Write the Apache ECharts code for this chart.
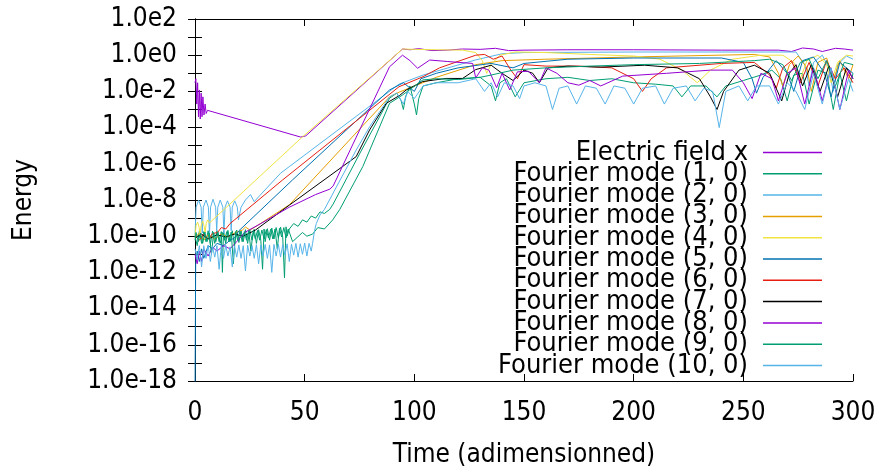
<!DOCTYPE html>
<html>
<head>
<meta charset="utf-8">
<script src="https://cdn.jsdelivr.net/npm/echarts@6/dist/echarts.min.js"></script>
<style>
  html, body { margin: 0; padding: 0; background: #fff; }
  #container { width: 876px; height: 467px; }
</style>
</head>
<body>
<div id="container"></div>
<script type="text/javascript">
// [time, energy]
var efield = [[0,3e-2],[0.4,5e-2],[0.8,2e-3],[1.2,3e-2],[1.6,4e-4],[2.0,1.2e-2],[2.4,3e-4],[2.8,8e-3],[3.2,4e-4],[3.6,5e-3],[4.1,5e-4],[4.6,2e-3],[5.1,6e-4],[5.7,9e-4],
  [48.2,3e-5],[50.5,3.5e-5],[94.6,2.2],[98,2.0],[102,2.3],[108,1.8],[115,1.9],[122,2.2],[130,2.1],[137,2.4],[143,1.8],[150,1.9],[170,2.0],[200,2.0],[240,1.9],
  [266,1.9],[272,1.6],[277,2.5],[282,2.2],[286,1.6],[292,2.4],[296,2.2],[300,1.9]];

var mode1 = [[0,1e-10],[1,3e-11],[2,2e-10],[3,4e-11],[4,1.8e-10],[5,5e-11],[6,2e-10],[7,3.5e-11],[8,1.9e-10],[9,4e-11],[10,2e-10],[11,5e-11],[12,1.8e-10],[12.5,1e-12],
  [13,2e-10],[14,4e-11],[15,2.1e-10],[16,5e-11],[17,2e-10],[18,3e-11],[19,2.2e-10],[20,4.5e-11],[21,2e-10],[22,5e-11],[23,2.3e-10],[24,4e-11],[25,2.2e-10],[26,6e-11],
  [27,2.4e-10],[28,4e-11],[29,2.3e-10],[30,6e-11],[30.8,1.5e-12],[31.5,2.5e-10],[32,5e-11],[33,2.6e-10],[34,6e-11],[35,2.8e-10],[36,7e-11],[37,3e-10],[38,8e-11],
  [39,3.2e-10],[40,9e-11],[40.8,5e-13],[41.5,3.3e-10],[42,1e-10],[43,2.5e-10],[45,5e-10],[47,3.5e-10],[49,8e-10],[51,6e-10],[53,1.3e-9],[55,1e-9],[57,2.2e-9],
  [59,1.8e-9],[61.4,3e-9],[63,6e-9],[75,3.5e-6],[88.7,4.2e-3],[92,8e-3],[94,3e-3],[95,1e-3],[96,5e-3],[98,2e-2],[100,2e-3],[101,5e-4],[102,4e-3],[104,2e-2],
  [110,3e-2],[120,5e-2],[130,6e-2],[135,2e-2],[137,3e-3],[139,3e-2],[142,5e-2],[146,5e-3],[150,3e-2],[160,5e-2],[170,6e-2],[180,4e-2],[190,5e-2],[200,3e-2],
  [210,2.5e-2],[218,2e-2],[222,5e-3],[226,2e-2],[233,2e-2],[238,5e-3],[242,2e-2],[250,4e-2],[258,8e-2],[263,0.15],[267,0.05],[270,0.003],[273,0.08],[277,0.1],
  [280,0.002],[284,0.15],[288,0.1],[291,0.001],[294,0.1],[297,0.003],[300,0.1]];

var mode2 = [[0,1e-10],[0.5,4e-9],[1.65,1e-8],[2.8,4e-9],[3.3,1.5e-10],[3.8,4e-9],[5,1e-8],[6.1,4e-9],[6.6,1.2e-10],[7.1,4e-9],[8.2,1.1e-8],[9.4,4e-9],[9.9,2e-10],
  [10.4,4e-9],[11.5,1e-8],[12.7,4e-9],[13.2,1.5e-10],[13.7,4e-9],[14.8,9e-9],[16,4e-9],[16.5,2e-10],[17,4e-9],[18.1,9e-9],[19.3,4e-9],[19.8,8e-10],[21,4e-9],
  [23,1e-8],[25.3,2e-8],[27,8e-9],[29,1.5e-8],[39,3e-7],[43,7e-7],[93,2.5e-2],[104,8e-2],[128,0.55],[140,1.2],[150,1.4],[200,1.5],[260,1.5],[274,1.5],[278,0.3],
  [280,0.02],[282,0.4],[286,1.0],[289,0.2],[291,0.01],[293,0.3],[297,0.9],[300,0.6]];

var mode3 = [[0,8e-11],[2,1.5e-10],[4,6e-11],[6,1.2e-10],[9,7e-11],[12,1.3e-10],[15,9e-11],[18,1.5e-10],[21.6,2.2e-10],[23,3.2e-10],[25,2.2e-10],[27,3e-10],
  [43,5.4e-9],[88.7,5e-3],[93,9e-3],[110,6e-2],[128,0.3],[140,0.5],[160,0.6],[200,0.8],[255,1.1],[262,0.8],[266,0.1],[268,0.02],[271,0.3],[275,0.9],[279,0.2],
  [281,0.01],[284,0.4],[288,0.7],[291,0.04],[294,0.5],[298,0.05],[300,0.3]];

var mode4 = [[0,1e-10],[0.5,4e-10],[1.2,6e-10],[1.9,3e-10],[2.3,1.2e-10],[2.8,4e-10],[3.5,7e-10],[4.2,3.5e-10],[4.6,1.5e-10],[5.1,5e-10],[5.8,8e-10],[6.6,5.4e-10],
  [48.2,2.5e-5],[94.6,2.2],[100,2.1],[110,2.0],[122,1.9],[128,1.4],[131,0.5],[133,0.1],[135,0.3],[139,1.0],[146,1.5],[160,1.4],[180,1.1],[200,0.9],[212,0.6],
  [222,0.15],[229,0.03],[235,0.15],[245,0.6],[258,1.0],[268,1.0],[273,0.4],[276,0.05],[279,0.5],[284,1.0],[288,0.3],[290,0.03],[293,0.4],[297,1.0],[300,0.9]];

var mode5 = [[0,1e-19],[0.3,3e-12],[1,1.5e-11],[2,4e-12],[3,2e-11],[4,6e-12],[6,3e-11],[8,2e-11],[10,4e-11],[13,3e-11],[16,6e-11],[18,8e-11],[20,2e-10],
  [44.5,1.3e-7],[88.7,1.2e-2],[95,3e-2],[100,1e-2],[103,0.05],[110,0.1],[120,0.2],[135,0.35],[145,0.2],[150,0.35],[170,0.6],[200,0.7],[240,0.7],[250,0.4],
  [254,0.05],[256,0.008],[259,0.06],[265,0.5],[270,0.1],[273,0.01],[277,0.5],[282,0.8],[287,0.1],[290,0.005],[294,0.4],[300,0.1]];

var mode6 = [[0,1e-10],[2,6e-11],[4,1.3e-10],[6,7e-11],[8,1.4e-10],[10.3,1.6e-10],[12,3e-10],[14,2.5e-10],[16,5e-10],[40,1.3e-7],[93,1.8e-2],[104,6.5e-2],
  [111.5,0.2],[128,1.0],[132,1.1],[136,0.6],[140,0.9],[144,0.15],[147,0.05],[150,0.3],[160,0.25],[175,0.25],[190,0.2],[200,0.05],[204,0.01],[208,0.05],[215,0.2],
  [240,0.35],[255,0.4],[262,0.08],[265,0.015],[268,0.2],[272,0.5],[276,0.03],[280,0.4],[284,0.02],[288,0.5],[292,0.05],[296,0.2],[300,0.03]];

var mode7 = [[0,8e-11],[3,1.3e-10],[6,7e-11],[10,1.2e-10],[14,9e-11],[18,1.3e-10],[22,1e-10],[27.6,2.2e-10],[43,5.2e-9],[73.5,2.5e-6],[79.6,7.4e-5],[87.2,2.2e-3],
  [93.3,6e-3],[96.3,1.2e-2],[103.8,3.5e-2],[114.5,5.2e-2],[122,5.2e-2],[128,0.16],[135,0.28],[140,0.1],[145,0.04],[150,0.15],[154,0.1],[157,0.03],[161,0.2],
  [170,0.25],[185,0.22],[205,0.28],[220,0.2],[230,0.05],[235,0.005],[238,0.001],[241,0.01],[248,0.15],[255,0.28],[262,0.1],[267.5,0.003],[271,0.1],[274,0.3],
  [277,0.02],[281,0.3],[285,0.01],[289,0.25],[293,0.005],[297,0.2],[300,0.05]];

var mode8 = [[0,1e-11],[1,3e-12],[2,1.5e-11],[3,4e-12],[4,2e-11],[6,8e-12],[8,2.5e-11],[10,1.5e-11],[13,3e-11],[16,2e-11],[19,5e-11],[22.6,1.6e-10],[30,5e-10],
  [43,4e-9],[55,2e-8],[61.5,4e-8],[63,6e-8],[88.7,0.23],[94.6,1.0],[98,0.5],[101.5,0.19],[107,0.54],[115,0.45],[126.6,0.35],[128,0.055],[131,0.2],[134,0.15],
  [137.5,0.016],[140,0.1],[143.5,0.012],[147,0.12],[152,0.13],[157,0.03],[160,0.2],[165,0.1],[170,0.03],[175,0.022],[180,0.04],[185,0.02],[195,0.07],[215,0.1],
  [235,0.15],[245,0.15],[250,0.03],[254,0.004],[258,0.1],[263,0.05],[266,0.003],[270,0.1],[274,0.2],[278,0.002],[282,0.2],[286,0.003],[290,0.2],[294,0.001],
  [298,0.15],[300,0.05]];

var mode9 = [[0,6e-11],[0.5,1.6e-10],[1.5,5e-11],[2.5,1.5e-10],[3.5,4e-11],[4.5,1.7e-10],[5.5,5e-11],[6.5,1.5e-10],[7.5,1e-11],[8.5,1.6e-10],[9.5,5e-11],
  [10.5,1.7e-10],[11.5,4e-11],[12.5,1.6e-10],[13.5,6e-11],[14.5,1.8e-10],[15.5,5e-11],[16.5,1.7e-10],[17.5,3e-12],[18.5,1.8e-10],[19.5,6e-11],[20.5,1.9e-10],
  [21.5,5e-11],[22.5,1.8e-10],[23.5,6e-11],[24.5,2e-10],[25.5,1.5e-11],[26.5,2e-10],[27.5,7e-11],[28.5,2.1e-10],[29.5,6e-11],[30.5,2.2e-10],[31.5,7e-11],
  [32.5,2.3e-10],[33.5,8e-11],[34.5,2.4e-10],[35.5,7e-11],[36.5,2.5e-10],[37.5,2e-11],[38.5,2.7e-10],[39.5,9e-11],[40.5,3e-10],[41.5,8e-11],[42.5,2.5e-10],
  [44.5,5e-11],[49,1.6e-10],[51,1e-10],[53.6,1.3e-10],[56,3e-10],[59,2.5e-10],[62.8,8e-10],[66,3e-9],[76.5,7e-7],[88.7,2.2e-3],[94.6,6.3e-3],[103.9,4.3e-2],
  [110,5e-2],[120,4.5e-2],[130,6e-2],[135,8e-2],[145,0.15],[160,0.2],[180,0.25],[200,0.3],[230,0.35],[255,0.5],[262,0.6],[268,0.3],[272,0.04],[276,0.4],
  [280,0.6],[284,0.05],[288,0.5],[292,0.02],[296,0.4],[300,0.3]];

var mode10 = [[0,2e-11],[1,5e-12],[2,3e-11],[3,2e-12],[4,3e-11],[5,6e-12],[6,3.2e-11],[7,4e-12],[8,2.8e-11],[9,7e-12],[10,3e-11],[11,1.5e-12],[12,3e-11],
  [13,6e-12],[14,3.2e-11],[15,8e-12],[16,2.6e-11],[17,2e-12],[18,3e-11],[19,7e-12],[20,3.3e-11],[21,6e-12],[22,3e-11],[23,1.2e-12],[24,3.2e-11],[25,8e-12],
  [26,3e-11],[27,6e-12],[28,3.4e-11],[29,3e-12],[30,3.2e-11],[31,8e-12],[32,3.5e-11],[33,6e-12],[34,3.3e-11],[35,1e-12],[36,3.5e-11],[37,8e-12],[38,3.6e-11],
  [39,7e-12],[40,3.4e-11],[41,9e-12],[42,3.8e-11],[43,4e-12],[44,3.6e-11],[45,9e-12],[46,4e-11],[47,7e-12],[48,3.8e-11],[49,1e-11],[50,4.2e-11],[51,8e-12],
  [52,4e-11],[53,1.5e-11],[53.6,4e-11],[54.5,2e-10],[55.3,5e-10],[57,1.5e-9],[59,3e-9],[61.3,1e-8],[73.5,5.8e-6],[79.6,1.1e-4],[88.7,5e-3],[92,8e-3],[95,2e-3],
  [97,1e-2],[100,4e-3],[104,2e-2],[110,3e-2],[120,3e-2],[128,5e-2],[132,1e-2],[135,3e-2],[138,5e-3],[141,3e-2],[145,2e-2],[148,4e-3],[150,2e-2],[155,3e-2],
  [160,2e-2],[163,1e-3],[166,1.5e-2],[170,2e-2],[174,2e-3],[178,2e-2],[183,1.5e-2],[187,2e-3],[191,2e-2],[196,1.5e-2],[200,2e-3],[204,1.5e-2],[210,2e-2],
  [214,2e-3],[218,1.5e-2],[224,2e-2],[228,3e-3],[232,1.5e-2],[236,1e-2],[239,1e-4],[242,1e-2],[248,2e-2],[252,3e-3],[256,2e-2],[262,2e-2],[266,2e-3],[270,3e-2],
  [274,1e-2],[278,1e-3],[282,0.1],[286,2e-3],[290,0.2],[294,1e-3],[298,0.05],[300,0.01]];

var seriesNames = ['Electric field x', 'Fourier mode (1, 0)', 'Fourier mode (2, 0)', 'Fourier mode (3, 0)', 'Fourier mode (4, 0)', 'Fourier mode (5, 0)',
  'Fourier mode (6, 0)', 'Fourier mode (7, 0)', 'Fourier mode (8, 0)', 'Fourier mode (9, 0)', 'Fourier mode (10, 0)'];
var seriesValues = [efield, mode1, mode2, mode3, mode4, mode5, mode6, mode7, mode8, mode9, mode10];
var colors = ['#9400d3', '#009e73', '#56b4e9', '#e69f00', '#f0e442', '#0072b2', '#e51e10', '#000000', '#9400d3', '#009e73', '#56b4e9'];

var font = '"DejaVu Sans Condensed", "DejaVu Sans", sans-serif';

var seriesData = [];
for (var i = 0; i < seriesNames.length; i++) {
    seriesData.push({
        name: seriesNames[i],
        type: 'line',
        data: seriesValues[i],
        symbol: 'none',
        showSymbol: false,
        clip: true,
        lineStyle: {width: 1, color: colors[i]},
        itemStyle: {color: colors[i]}
    });
}

var dom = document.getElementById('container');
var myChart = echarts.init(dom);
var option = {
    animation: false,
    backgroundColor: '#fff',
    grid: {left: 195, right: 23, top: 19, bottom: 86, outerBoundsMode: 'none', containLabel: false},
    legend: {
        data: seriesNames,
        orient: 'vertical',
        right: 54,
        top: 139,
        align: 'right',
        padding: 0,
        itemGap: -5.7,
        itemWidth: 59,
        itemHeight: 1.5,
        icon: 'rect',
        textStyle: {fontFamily: font, fontSize: 27, color: '#000', padding: [0, 10, 0, 0]}
    },
    xAxis: [{
        type: 'value', min: 0, max: 300, interval: 50,
        name: 'Time (adimensionned)', nameLocation: 'middle', nameGap: 61,
        nameTextStyle: {fontFamily: font, fontSize: 26, color: '#000'},
        axisLine: {lineStyle: {color: '#000', width: 1}},
        axisTick: {inside: true, length: 7, lineStyle: {color: '#000'}},
        axisLabel: {fontFamily: font, fontSize: 26, color: '#000', margin: 19},
        splitLine: {show: false}
    }, {
        type: 'value', min: 0, max: 300, interval: 50, position: 'top',
        axisLine: {lineStyle: {color: '#000', width: 1}},
        axisTick: {inside: true, length: 7, lineStyle: {color: '#000'}},
        axisLabel: {show: false},
        splitLine: {show: false}
    }],
    yAxis: [{
        type: 'log', logBase: 10, min: 1e-18, max: 1e2, interval: 1,
        name: 'Energy', nameLocation: 'middle', nameGap: 158, nameRotate: 90,
        nameTextStyle: {fontFamily: font, fontSize: 26, color: '#000'},
        axisLine: {lineStyle: {color: '#000', width: 1}},
        axisTick: {inside: true, length: 7, lineStyle: {color: '#000'}},
        axisLabel: {
            fontFamily: font, fontSize: 26, color: '#000', margin: 18,
            formatter: function (v) {
                var e = Math.round(Math.log10(v));
                return e % 2 === 0 ? '1.0e' + e : '';
            }
        },
        splitLine: {show: false}
    }, {
        type: 'log', logBase: 10, min: 1e-18, max: 1e2, interval: 1, position: 'right',
        axisLine: {lineStyle: {color: '#000', width: 1}},
        axisTick: {inside: true, length: 7, lineStyle: {color: '#000'}},
        axisLabel: {show: false},
        splitLine: {show: false}
    }],
    series: seriesData
};
myChart.setOption(option, true);
</script>
</body>
</html>
